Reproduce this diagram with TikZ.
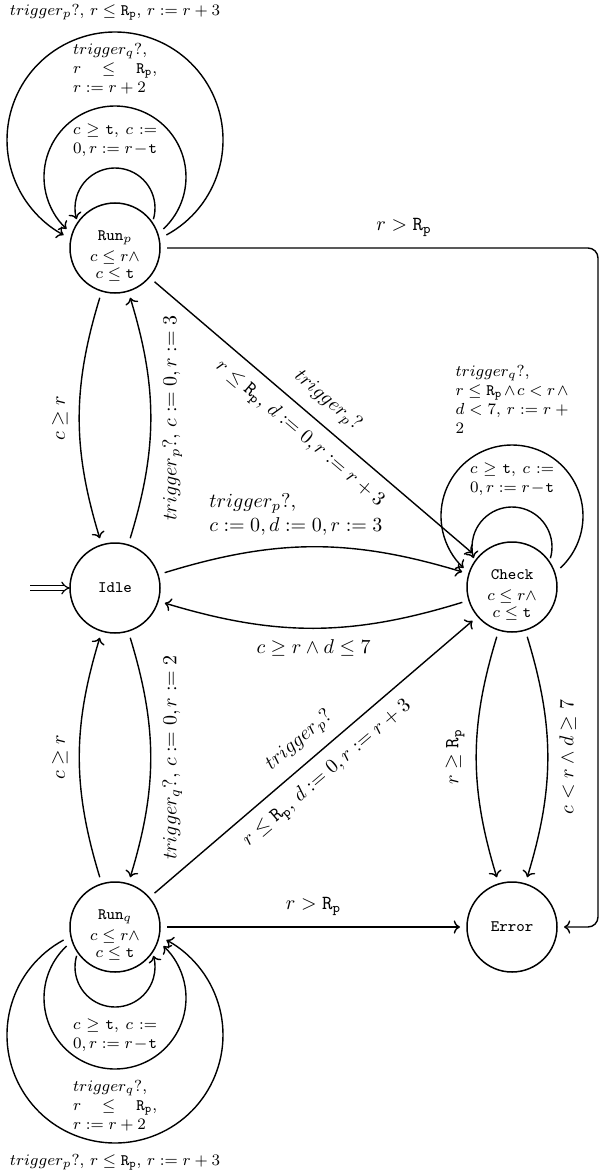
\documentclass[tikz,border=0pt]{standalone}
\usetikzlibrary{calc,arrows.meta}
\newcommand{\Rp}{\mathtt{R}_{\mathtt{p}}}
\begin{document}
\begin{tikzpicture}[x=0.5pt,y=0.5pt,
  state/.style={circle,draw,line width=0.75pt,minimum size=45pt,inner sep=0pt,outer sep=3.5pt,font=\fontsize{8}{9.5}\selectfont\ttfamily},
  stext/.style={align=center,inner sep=0pt,font=\fontsize{8}{8.5}\selectfont},
  conn/.style={->,line width=0.7pt},
  lab/.style={inner sep=5.5pt,font=\fontsize{10}{12}\selectfont},
  looplab/.style={inner sep=5.5pt,font=\fontsize{8}{9.5}\selectfont},
]
\useasboundingbox (0,0) rectangle (600,-1172);

% states
\node[state] (Runp) at (115,-248) {};
\node[stext] (Runpt) at ($(Runp.center)+(0,-8)$) {$\mathtt{Run}_p$\\[2.25pt]$c\leq r\wedge$\\$c\leq\mathtt{t}$};
\node[state] (Idle) at (115,-588) {Idle};
\node[state] (Check) at (512,-587) {};
\node[stext] (Checkt) at ($(Check.center)+(0,-8)$) {\texttt{Check}\\[2.25pt]$c\leq r\wedge$\\$c\leq\mathtt{t}$};
\node[state] (Runq) at (115,-927) {};
\node[stext] (Runqt) at ($(Runq.center)+(0,-8)$) {$\mathtt{Run}_q$\\[2.25pt]$c\leq r\wedge$\\$c\leq\mathtt{t}$};
\node[state] (Error) at (512,-927) {Error};

% initial arrow
\coordinate (init) at (30,-588);
\draw[double,line width=0.6pt,double distance=1.6pt,-{Implies[scale=1.3]}] (init) -- ([xshift=3.5pt]Idle.west);

% loops on Run_p
\draw[conn] ($(Runp.center)+(36.87:48)$) arc[start angle=-16.26, end angle=196.26, radius=20pt];
\draw[conn] ($(Runp.center)+(21.48:52)$) arc[start angle=-47.03, end angle=227.03, radius=35.5pt];
\draw[conn] ($(Runp.center)+(14.2:53)$) arc[start angle=-61.6, end angle=241.6, radius=54pt];
\node[looplab,text width=42pt,align=justify,anchor=south] (Lp1) at ($(Runp.center)+(0,80)$)
  {$c \geq \mathtt{t}$, $c :=\linebreak 0, r := r - \mathtt{t}$};
\node[looplab,text width=42pt,align=justify,anchor=south] (Lp2) at ($(Runp.center)+(0,142)$)
  {$trigger_q?$,\linebreak $r \leq \Rp$,\linebreak $r := r + 2$};
\node[looplab,anchor=south] (Lp3) at ($(Runp.center)+(0,216)$)
  {$trigger_p?$, $r \leq \Rp$, $r := r + 3$};

% loops on Check
\draw[conn] ($(Check.center)+(36.87:48)$) arc[start angle=-16.26, end angle=196.26, radius=20pt];
\draw[conn] ($(Check.center)+(21.48:52)$) arc[start angle=-47.03, end angle=227.03, radius=35.5pt];
\node[looplab,text width=42pt,align=justify,anchor=south] (Lc1) at ($(Check.center)+(0,80)$)
  {$c \geq \mathtt{t}$, $c :=\linebreak 0, r := r - \mathtt{t}$};
\node[looplab,text width=56.5pt,align=justify,anchor=south] (Lc2) at ($(Check.center)+(0,142)$)
  {$trigger_q?$,\linebreak $r \leq \Rp \wedge c < r \wedge\linebreak d < 7$, $r := r +\linebreak 2$};

% loops on Run_q
\draw[conn] ($(Runq.center)+(216.87:48)$) arc[start angle=163.74, end angle=376.26, radius=20pt];
\draw[conn] ($(Runq.center)+(201.48:52)$) arc[start angle=132.97, end angle=407.03, radius=35.5pt];
\draw[conn] ($(Runq.center)+(194.2:53)$) arc[start angle=118.4, end angle=421.6, radius=54pt];
\node[looplab,text width=42pt,align=justify,anchor=north] (Lq1) at ($(Runq.center)+(0,-80)$)
  {$c \geq \mathtt{t}$, $c :=\linebreak 0, r := r - \mathtt{t}$};
\node[looplab,text width=42pt,align=justify,anchor=north] (Lq2) at ($(Runq.center)+(0,-142)$)
  {$trigger_q?$,\linebreak $r \leq \Rp$,\linebreak $r := r + 2$};
\node[looplab,anchor=north] (Lq3) at ($(Runq.center)+(0,-216)$)
  {$trigger_p?$, $r \leq \Rp$, $r := r + 3$};

% Run_p <-> Idle
\draw[conn] (Runp) to[bend right=17] node[lab,rotate=90,anchor=south] (e1) {$c \geq r$} (Idle);
\draw[conn] (Idle) to[bend right=17] node[lab,rotate=90,anchor=north] (e2) {$trigger_p?$, $c := 0, r := 3$} (Runp);

% Idle <-> Run_q
\draw[conn] (Idle) to[bend left=17] node[lab,rotate=90,anchor=north] (e3) {$trigger_q?$, $c := 0, r := 2$} (Runq);
\draw[conn] (Runq) to[bend left=17] node[lab,rotate=90,anchor=south] (e4) {$c \geq r$} (Idle);

% Idle <-> Check
\draw[conn] (Idle) to[bend left=17] node[lab,anchor=south,text width=104pt,align=left] (e5) {$trigger_p?$,\\ $c := 0, d := 0, r := 3$} (Check);
\draw[conn] (Check) to[bend left=17] node[lab,anchor=north] (e6) {$c \geq r \wedge d \leq 7$} (Idle);

% diagonals
\draw[conn] (Runp) -- node[lab,sloped,above] (e7) {$trigger_p?$} node[lab,sloped,below] (e8) {$r \leq \Rp$, $d := 0, r := r + 3$} (Check);
\draw[conn] (Runq) -- node[lab,sloped,above] (e9) {$trigger_p?$} node[lab,sloped,below] (e10) {$r \leq \Rp$, $d := 0, r := r + 3$} (Check);

% Check -> Error
\draw[conn] (Check) to[bend right=17] node[lab,rotate=90,anchor=south] (e11) {$r \geq \Rp$} (Error);
\draw[conn] (Check) to[bend left=17] node[lab,rotate=90,anchor=north] (e12) {$c < r \wedge d \geq 7$} (Error);

% to Error
\draw[conn] (Runq) -- node[lab,above] (e13) {$r > \Rp$} (Error);
\coordinate (cA) at (598,-248);
\draw[conn,rounded corners=5pt] (Runp) -- node[lab,above,pos=0.55] (e14) {$r > \Rp$} (cA) |- (Error);
\end{tikzpicture}
\end{document}
